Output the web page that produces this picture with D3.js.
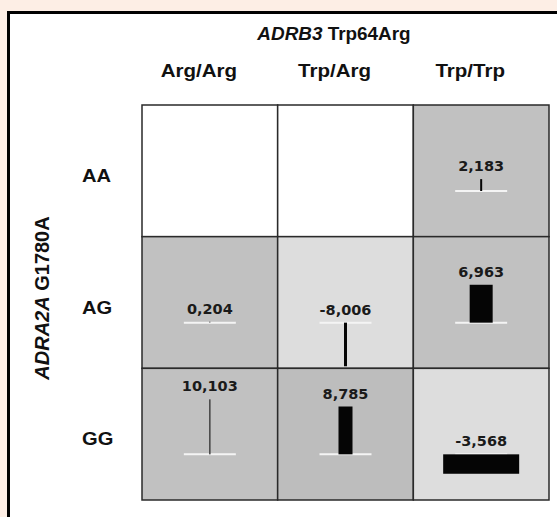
<!DOCTYPE html>
<meta charset="utf-8">
<style>

body {
  margin: 0;
  background: #fdeee5;
}

.lab {
  font-family: "Liberation Sans", Arial, sans-serif;
  font-weight: bold;
  fill: #111;
}

.val {
  font-family: "DejaVu Sans", sans-serif;
  font-weight: bold;
  font-size: 14.5px;
  fill: #1a1a1a;
  text-anchor: middle;
}

</style>
<svg width="557" height="517"></svg>
<script src="https://d3js.org/d3.v7.min.js"></script>
<script>

// ADRB3 genotypes (columns) and ADRA2A genotypes (rows)
var columns = ["Arg/Arg", "Trp/Arg", "Trp/Trp"];
var rows = ["AA", "AG", "GG"];

// one entry per cell that has a bar: row, column, effect value, bar spread
var cellRow = ["AA", "AG", "AG", "AG", "GG", "GG", "GG"];
var cellCol = ["Trp/Trp", "Arg/Arg", "Trp/Arg", "Trp/Trp", "Arg/Arg", "Trp/Arg", "Trp/Trp"];
var effect = [2.183, 0.204, -8.006, 6.963, 10.103, 8.785, -3.568];
var spread = [2, 1, 3, 23, 1.5, 14, 76];

// shading of each cell, row by row
var shade = [
  ["none", "none", "dark"],
  ["dark", "light", "dark"],
  ["dark", "dark2", "light"]
];

var svg = d3.select("svg"),
    grid = {left: 142, top: 105, right: 549, bottom: 500};

var x = d3.scaleBand().domain(columns).range([grid.left, grid.right]),
    y = d3.scaleBand().domain(rows).range([grid.top, grid.bottom]),
    h = d3.scaleLinear().domain([0, 10.103]).range([0, 55]),
    w = d3.scaleLinear().domain([0, 76]).range([0, 76]),
    fill = d3.scaleOrdinal()
      .domain(["none", "dark", "dark2", "light"])
      .range(["#ffffff", "#c1c1c1", "#bdbdbd", "#dddddd"]);

var baseOffset = 86; // baseline position inside a cell

// frame of the figure
svg.append("rect")
    .attr("x", 8.5)
    .attr("y", 12.5)
    .attr("width", 600)
    .attr("height", 600)
    .attr("fill", "#fff")
    .attr("stroke", "#000")
    .attr("stroke-width", 3);

// cells
var cells = [];
shade.forEach(function(r, i) {
  r.forEach(function(s, j) { cells.push({row: rows[i], col: columns[j], shade: s}); });
});

svg.append("g").selectAll("rect")
  .data(cells)
  .enter().append("rect")
    .attr("x", function(d) { return x(d.col); })
    .attr("y", function(d) { return y(d.row); })
    .attr("width", x.bandwidth())
    .attr("height", y.bandwidth())
    .attr("fill", function(d) { return fill(d.shade); })
    .attr("stroke", "#2a2a2a")
    .attr("stroke-width", 1.5);

var bars = effect.map(function(v, i) {
  return {row: cellRow[i], col: cellCol[i], value: v, spread: spread[i]};
});

var g = svg.append("g");

// baselines
g.selectAll(".base")
  .data(bars)
  .enter().append("line")
    .attr("class", "base")
    .attr("x1", function(d) { return x(d.col) + x.bandwidth() / 2 - 26; })
    .attr("x2", function(d) { return x(d.col) + x.bandwidth() / 2 + 26; })
    .attr("y1", function(d) { return y(d.row) + baseOffset; })
    .attr("y2", function(d) { return y(d.row) + baseOffset; })
    .attr("stroke", "#f4f4f4")
    .attr("stroke-width", 2);

// bars (very thin ones look grey in the original)
g.selectAll(".bar")
  .data(bars)
  .enter().append("rect")
    .attr("class", "bar")
    .attr("x", function(d) { return x(d.col) + x.bandwidth() / 2 - w(d.spread) / 2; })
    .attr("y", function(d) { return y(d.row) + baseOffset - (d.value > 0 ? h(d.value) : 0); })
    .attr("width", function(d) { return w(d.spread); })
    .attr("height", function(d) { return Math.max(h(Math.abs(d.value)), 0.6); })
    .attr("fill", function(d) { return d.spread < 2 ? "#444" : "#050505"; });

// value labels
g.selectAll(".val")
  .data(bars)
  .enter().append("text")
    .attr("class", "val")
    .attr("x", function(d) { return x(d.col) + x.bandwidth() / 2; })
    .attr("y", function(d) {
      return y(d.row) + baseOffset - (d.value > 0 ? h(d.value) : 0) - 8;
    })
    .text(function(d) { return d3.format(".3f")(d.value).replace(".", ",").replace("\u2212", "-"); });

// column header
var title = svg.append("text")
    .attr("class", "lab")
    .attr("font-size", 17.5)
    .attr("text-anchor", "middle")
    .attr("transform", "translate(334,40) scale(1.08,1)");
title.append("tspan").attr("font-style", "italic").text("ADRB3");
title.append("tspan").text(" Trp64Arg");

svg.append("g").selectAll("text")
  .data(columns)
  .enter().append("text")
    .attr("class", "lab")
    .attr("font-size", 19)
    .attr("text-anchor", "middle")
    .attr("transform", function(d) {
      return "translate(" + (x(d) + x.bandwidth() / 2 - 11) + ",77) scale(1.08,1)";
    })
    .text(function(d) { return d; });

// row header
svg.append("g").selectAll("text")
  .data(rows)
  .enter().append("text")
    .attr("class", "lab")
    .attr("font-size", 18)
    .attr("transform", function(d) {
      return "translate(82," + (y(d) + y.bandwidth() / 2 + 11) + ") scale(1.12,1)";
    })
    .text(function(d) { return d; });

var ylab = svg.append("text")
    .attr("class", "lab")
    .attr("font-size", 20)
    .attr("text-anchor", "middle")
    .attr("transform", "translate(49,298) rotate(-90)");
ylab.append("tspan").attr("font-style", "italic").text("ADRA2A");
ylab.append("tspan").text(" G1780A");

</script>
